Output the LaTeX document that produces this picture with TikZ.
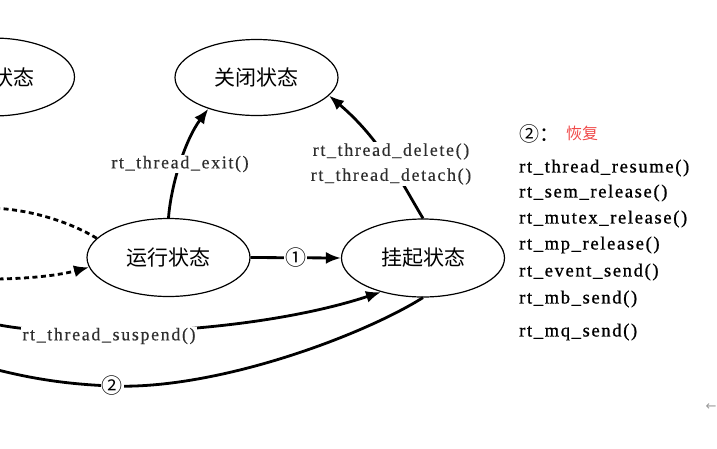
\documentclass[tikz,border=0pt]{standalone}
\usepackage{fontspec}
\setmainfont{Liberation Serif}
\newfontfamily\cjk{Noto Sans CJK SC}
\newfontfamily\djv{DejaVu Sans}
\usetikzlibrary{shapes.geometric,arrows.meta}
\definecolor{labelgray}{HTML}{2E2E2E}
\definecolor{redtxt}{HTML}{F04A4A}
\definecolor{uigray}{HTML}{9A9A9A}
\tikzset{
  state/.style={ellipse,draw,line width=1.2pt,minimum width=163pt,minimum height=78pt,inner sep=0pt,font=\cjk\fontsize{21}{21}\selectfont},
  conn/.style={line width=2.8pt},
  tipped/.style={-{Latex[length=15pt,width=12pt]}},
  dashconn/.style={line width=2.8pt,dash pattern=on 5pt off 3.5pt},
  lbl/.style={fill=white,inner sep=1pt,text=labelgray,align=center,font=\fontsize{18}{25}\selectfont\addfontfeature{LetterSpace=9,FakeBold=0.4}},
  circlbl/.style={fill=white,inner sep=1pt,font=\cjk\fontsize{21}{21}\selectfont},
  listitem/.style={anchor=west,inner sep=0pt,font=\fontsize{18.5}{20}\selectfont\addfontfeature{LetterSpace=9,FakeBold=0.9}},
}
\begin{document}
\begin{tikzpicture}[x=1pt,y=-1pt]
\useasboundingbox (0,0) rectangle (717,448);
% states
\node[state] (ready) at (-7,77) {就绪状态};
\node[state,minimum height=76pt] (close) at (256.5,77.5) {关闭状态};
\node[state] (run) at (168.5,257.5) {运行状态};
\node[state] (susp) at (423,258) {挂起状态};
% free ends
\coordinate (dashA) at (-10,208);
\coordinate (dashB) at (-10,279);
\coordinate (suspL) at (-10,323);
\coordinate (c2) at (112,386);
\coordinate (resL) at (-10,368);
% connectors
\draw[conn,tipped] (run.north) .. controls (171,185) and (185,140) .. (close.-147);
\draw[conn,tipped] (susp.north) .. controls (399,178) and (380,139) .. (close.-14);
\draw[conn,tipped] (run.east) -- (susp.west) node[circlbl,midway] (n1) {①};
\draw[dashconn] (run.165) .. controls (70,222) and (30,209) .. (dashA);
\draw[dashconn,tipped] (dashB) .. controls (30,279) and (60,275) .. (run.187);
\draw[conn,tipped] (suspL) .. controls (60,340) and (250,335) .. (susp.-141);
\draw[conn] (susp.south) .. controls (360,337) and (215,390) .. (c2) .. controls (60,384) and (25,377) .. (resL);
% labels
\node[circlbl] (n2) at (c2) {②};
\node[lbl] (lexit) at (180,164) {rt\_thread\_exit()};
\node[lbl] (ldel) at (391,164) {rt\_thread\_delete()\\rt\_thread\_detach()};
\node[lbl] (lsus) at (109,336) {rt\_thread\_suspend()};
% right list
\node[anchor=west,inner sep=0pt,font=\cjk\fontsize{20}{20}\selectfont] (hd) at (519,134) {②：};
\node[anchor=west,inner sep=0pt,text=redtxt,font=\cjk\fontsize{16}{16}\selectfont] (hdr) at (566,133) {恢复};
\node[listitem] (i1) at (519,168) {rt\_thread\_resume()};
\node[listitem] (i2) at (519,193) {rt\_sem\_release()};
\node[listitem] (i3) at (519,219) {rt\_mutex\_release()};
\node[listitem] (i4) at (519,245) {rt\_mp\_release()};
\node[listitem] (i5) at (519,272) {rt\_event\_send()};
\node[listitem] (i6) at (519,299) {rt\_mb\_send()};
\node[listitem] (i7) at (519,332) {rt\_mq\_send()};
\node[text=uigray,inner sep=0pt,font=\djv\fontsize{13}{13}\selectfont] (ui) at (711,407) {←};
\end{tikzpicture}
\end{document}
